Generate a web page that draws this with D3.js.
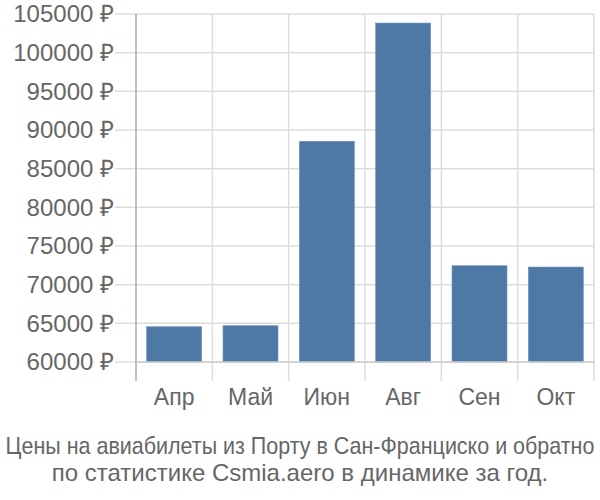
<!DOCTYPE html>
<html><head><meta charset="utf-8">
<script src="https://cdn.jsdelivr.net/npm/d3@7"></script>
<style>body{margin:0;background:#fff}svg{display:block}text{font-family:"Liberation Sans",Arial,sans-serif;fill:#666}</style>
</head><body><svg id="c" width="600" height="500"></svg>
<script>
const categories = ["Апр","Май","Июн","Авг","Сен","Окт"];
const values = [64560, 64690, 88540, 103830, 72450, 72280];
const yTicks = [60000,65000,70000,75000,80000,85000,90000,95000,100000,105000];
const captionLines = ["Цены на авиабилеты из Порту в Сан-Франциско и обратно","по статистике Csmia.aero в динамике за год."];

(function(){
const svg = d3.select("#c");
const mL = 136, mR = 594, mT = 14, mB = 362;
const x = d3.scaleBand().domain(categories).range([mL, mR]).paddingInner(0.28).paddingOuter(0.14);
const y = d3.scaleLinear().domain([60000, 105000]).range([mB, mT]);

svg.append("g").selectAll("line").data(yTicks).join("line")
  .attr("x1", 115).attr("x2", mR).attr("y1", d=>y(d)).attr("y2", d=>y(d))
  .attr("stroke", "#ddd").attr("stroke-width", 1.5);
const bw = (mR-mL)/categories.length;
svg.append("g").selectAll("line").data(d3.range(1, categories.length+1)).join("line")
  .attr("x1", i=>mL+i*bw).attr("x2", i=>mL+i*bw).attr("y1", mT).attr("y2", 381)
  .attr("stroke", "#ddd").attr("stroke-width", 1.5);

svg.append("g").selectAll("rect").data(values).join("rect")
  .attr("x", (d,i)=>x(categories[i])).attr("width", x.bandwidth())
  .attr("y", d=>y(d)).attr("height", d=>mB-y(d))
  .attr("fill", "#4e79a7").attr("stroke","#6b8fbb").attr("stroke-width",0.6);

svg.append("line").attr("x1", mL).attr("x2", mL).attr("y1", mT).attr("y2", 381).attr("stroke", "#aaa").attr("stroke-width", 1.5);
svg.append("line").attr("x1", mL).attr("x2", mR).attr("y1", mB).attr("y2", mB).attr("stroke", "#ccc").attr("stroke-width", 1.5);

svg.append("g").selectAll("text").data(yTicks).join("text")
  .attr("x", 114).attr("y", d=>y(d)).attr("dy", "0.35em").attr("text-anchor", "end")
  .attr("font-size", 24).text(d=>d+" ₽");

svg.append("g").selectAll("text").data(categories).join("text")
  .attr("x", d=>x(d)+x.bandwidth()/2).attr("y", 397).attr("dy","0.35em").attr("text-anchor","middle")
  .attr("font-size", 23).text(d=>d);

const hScale = [0.895, 1];
svg.append("g").selectAll("text").data(captionLines).join("text")
  .attr("transform", (d,i)=>`translate(300,${446+i*27}) scale(${hScale[i]},1)`)
  .attr("dy","0.35em").attr("text-anchor","middle")
  .attr("font-size", 24).text(d=>d);
})();
</script></body></html>
